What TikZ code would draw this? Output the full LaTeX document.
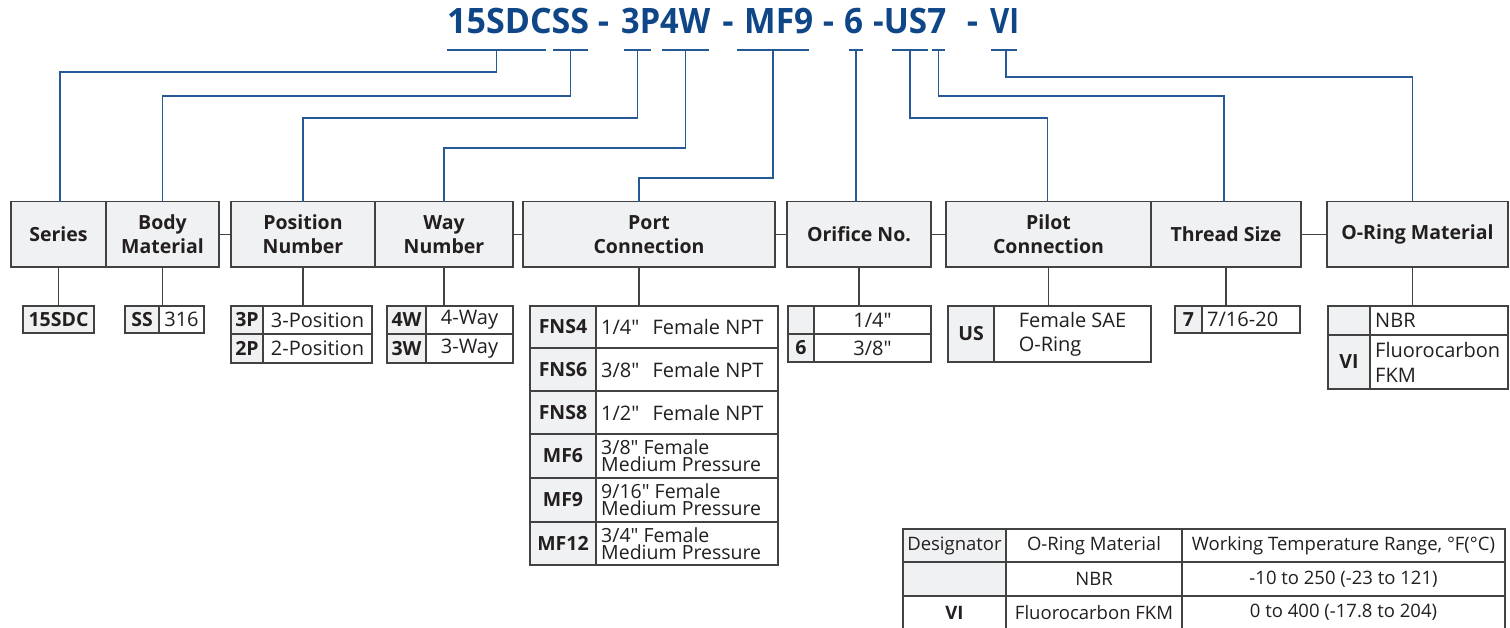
\documentclass[tikz,border=0pt]{standalone}
\usepackage{fontspec}
\setmainfont{Open Sans}[Ligatures=TeXOff]
\usetikzlibrary{calc}
\definecolor{tblue}{RGB}{14,70,136}
\definecolor{lblue}{RGB}{38,90,150}
\definecolor{bc}{RGB}{66,66,66}
\definecolor{gf}{RGB}{240,241,242}
\definecolor{tc}{RGB}{35,31,32}
\newcommand{\myTf}{\fontsize{35}{40}\selectfont\bfseries}
\newcommand{\myHf}{\fontsize{19.5}{24}\selectfont\bfseries}
\newcommand{\myCf}{\fontsize{19.5}{24}\selectfont\bfseries}
\newcommand{\myDf}{\fontsize{20}{24}\selectfont}
\newcommand{\myMf}{\fontsize{19.5}{17}\selectfont}
\newcommand{\myBf}{\fontsize{18.5}{21}\selectfont}
\tikzset{
  cellbase/.style={draw=bc, line width=1.2pt, anchor=north west, inner sep=0pt, outer sep=0pt, text=tc, align=center},
  hdr/.style={fill=gf, font=\myHf, line width=1.3pt},
  code/.style={fill=gf, font=\myCf},
  desc/.style={fill=white, font=\myDf},
  bcode/.style={fill=gf, font=\myBf},
  bdesc/.style={fill=white, font=\myBf},
  ltext/.style={anchor=west, inner sep=0pt, text=tc, align=left},
  ttl/.style={text=tblue, font=\myTf, inner sep=0pt, anchor=base west},
  bar/.style={draw=lblue, line width=2pt},
  conn/.style={draw=lblue, line width=1.4pt},
  link/.style={draw=bc, line width=1.2pt}
}
\newcommand{\mycell}[7][]{%
  \pgfmathsetmacro{\cw}{#5-#3}\pgfmathsetmacro{\ch}{#6-#4}%
  \node[cellbase,#1,minimum width=\cw pt,minimum height=\ch pt] (#2) at (#3,#4) {#7};}
\newcommand{\mylcell}[8][]{%
  \pgfmathsetmacro{\cw}{#5-#3}\pgfmathsetmacro{\ch}{#6-#4}%
  \node[cellbase,#1,minimum width=\cw pt,minimum height=\ch pt] (#2) at (#3,#4) {};
  \node[ltext,font=#8] (#2t) at ([xshift=5pt]#2.west) {#7};}
\newcommand{\mybar}[4]{%
  \coordinate (#1) at (#4,49.5);
  \draw[bar] (#2,49.5) -- (#3,49.5);}
\begin{document}
\begin{tikzpicture}[x=1pt,y=-1pt]
\useasboundingbox[fill=white] (0,0) rectangle (1510,627);
% title
\node[ttl] (t1) at (447,33) {\resizebox{142pt}{\height}{15SDCSS}};
\node[ttl,anchor=base] (h1) at (603.5,33) {-};
\node[ttl] (t2) at (621,33) {\resizebox{89pt}{\height}{3P4W}};
\node[ttl,anchor=base] (h2) at (728,33) {-};
\node[ttl] (t3) at (744,33) {\resizebox{69pt}{\height}{MF9}};
\node[ttl,anchor=base] (h3) at (828.5,33) {-};
\node[ttl] (t4) at (844,33) {\resizebox{19pt}{\height}{6}};
\node[ttl] (t5) at (873,33) {\resizebox{73pt}{\height}{-US7}};
\node[ttl,anchor=base] (h5) at (972.5,33) {-};
\node[ttl] (t6) at (990,33) {\resizebox{29pt}{\height}{VI}};
% bars
\mybar{d1}{447}{546}{496.5}
\mybar{d2}{553}{588}{570.5}
\mybar{d3}{624}{651}{637.5}
\mybar{d4}{662}{709}{685.5}
\mybar{d5}{737}{809}{773}
\mybar{d6}{849}{863}{856}
\mybar{d7}{892}{928}{910}
\mybar{d8}{932}{945}{938.5}
\mybar{d9}{991}{1017}{1006}
% header boxes
\mycell[hdr]{series}{11}{201.5}{106}{267}{Series}
\mycell[hdr]{body}{106}{201.5}{219}{267}{Body\\Material}
\mycell[hdr]{position}{231}{201.5}{375}{267}{Position\\Number}
\mycell[hdr]{way}{375}{201.5}{513}{267}{Way\\Number}
\mycell[hdr]{port}{523}{201.5}{775}{267}{Port\\Connection}
\mycell[hdr]{orifice}{787}{201.5}{931}{267}{Orifice No.}
\mycell[hdr]{pilot}{946}{201.5}{1151}{267}{Pilot\\Connection}
\mycell[hdr]{thread}{1151}{201.5}{1301}{267}{Thread Size}
\mycell[hdr]{oring}{1327}{201.5}{1508}{267}{O-Ring Material}
% blue connectors
\draw[conn] (d1) -- (d1 |- 0,72) -| ([xshift=1.5pt]series.north);
\draw[conn] (d2) -- (d2 |- 0,96) -| (body.north);
\draw[conn] (d3) -- (d3 |- 0,118) -| (position.north);
\draw[conn] (d4) -- (d4 |- 0,148) -| (way.north);
\draw[conn] (d5) -- (d5 |- 0,178) -| ([xshift=-10pt]port.north);
\draw[conn] (d6) -- (d6 |- orifice.north);
\draw[conn] (d7) -- (d7 |- 0,118) -| ([xshift=-1pt]pilot.north);
\draw[conn] (d8) -- (d8 |- 0,96) -| ([xshift=-2pt]thread.north);
\draw[conn] (d9) -- (d9 |- 0,77) -| ([xshift=-5pt]oring.north);
% links between header boxes
\draw[link] (body.east) -- (position.west);
\draw[link] (way.east) -- (port.west);
\draw[link] (port.east) -- (orifice.west);
\draw[link] (orifice.east) -- (pilot.west);
\draw[link] (thread.east) -- (oring.west);
% sub tables
\mycell[code]{s15}{23}{306}{94}{333}{15SDC}
\mycell[code]{ssc}{125}{306}{159}{333}{SS}
\mycell[desc]{ssd}{159}{306}{204}{333}{316}
\mycell[code]{p3c}{231}{306}{263}{334}{3P}
\mycell[desc]{p3d}{263}{306}{372}{334}{3-Position}
\mycell[code]{p2c}{231}{334}{263}{363}{2P}
\mycell[desc]{p2d}{263}{334}{372}{363}{2-Position}
\mycell[code]{w4c}{387}{306}{426}{334}{4W}
\mycell[desc]{w4d}{426}{306}{513}{334}{4-Way}
\mycell[code]{w3c}{387}{334}{426}{363}{3W}
\mycell[desc]{w3d}{426}{334}{513}{363}{3-Way}
% port
\mycell[code]{f4c}{530}{306}{596}{348}{FNS4}
\mylcell[desc]{f4d}{596}{306}{778}{348}{1/4"\hspace{0.4em} Female NPT}{\myDf}
\mycell[code]{f6c}{530}{348}{596}{391}{FNS6}
\mylcell[desc]{f6d}{596}{348}{778}{391}{3/8"\hspace{0.4em} Female NPT}{\myDf}
\mycell[code]{f8c}{530}{391}{596}{434}{FNS8}
\mylcell[desc]{f8d}{596}{391}{778}{434}{1/2"\hspace{0.4em} Female NPT}{\myDf}
\mycell[code]{m6c}{530}{434}{596}{478}{MF6}
\mylcell[desc]{m6d}{596}{434}{778}{478}{3/8" Female\\Medium Pressure}{\myMf}
\mycell[code]{m9c}{530}{478}{596}{522}{MF9}
\mylcell[desc]{m9d}{596}{478}{778}{522}{9/16" Female\\Medium Pressure}{\myMf}
\mycell[code]{m12c}{530}{522}{596}{565}{MF12}
\mylcell[desc]{m12d}{596}{522}{778}{565}{3/4" Female\\Medium Pressure}{\myMf}
% orifice
\mycell[code]{o1c}{788}{306}{814}{334}{}
\mycell[desc]{o1d}{814}{306}{931}{334}{1/4"}
\mycell[code]{o2c}{788}{334}{814}{362}{6}
\mycell[desc]{o2d}{814}{334}{931}{362}{3/8"}
% pilot
\mycell[code]{usc}{948}{306}{994}{362}{US}
\mycell[desc,align=left]{usd}{994}{306}{1151}{362}{Female SAE\\O-Ring}
% thread
\mycell[code]{t7c}{1175}{306}{1202}{333}{7}
\mylcell[desc]{t7d}{1202}{306}{1300}{333}{7/16-20}{\myDf}
% o-ring
\mycell[code]{or1c}{1328}{306}{1370}{335}{}
\mylcell[desc]{or1d}{1370}{306}{1508}{335}{NBR}{\myDf}
\mycell[code]{or2c}{1328}{335}{1370}{389}{VI}
\mylcell[desc]{or2d}{1370}{335}{1508}{389}{Fluorocarbon\\FKM}{\fontsize{20}{25}\selectfont}
% child links
\draw[link] (series.south) -- (s15.north);
\draw[link] (body.south) -- (body.south |- ssc.north);
\draw[link] (position.south) -- (position.south |- p3c.north);
\draw[link] (way.south) -- (way.south |- w4c.north);
\draw[link] ([xshift=-10pt]port.south) -- ([xshift=-10pt]port.south |- f4c.north);
\draw[link] (orifice.south) -- (orifice.south |- o1c.north);
\draw[link] (pilot.south) -- (pilot.south |- usc.north);
\draw[link] (thread.south) -- (thread.south |- t7c.north);
\draw[link] ([xshift=-5pt]oring.south) -- ([xshift=-5pt]oring.south |- or1c.north);
% bottom table
\mycell[bcode]{b11}{903}{529}{1006}{562}{Designator}
\mycell[bdesc]{b12}{1006}{529}{1182}{562}{O-Ring Material}
\mycell[bdesc]{b13}{1182}{529}{1505}{562}{Working Temperature Range, °F(°C)}
\mycell[bcode]{b21}{903}{562}{1006}{596}{}
\mycell[bdesc]{b22}{1006}{562}{1182}{596}{NBR}
\mycell[bdesc]{b23}{1182}{562}{1505}{596}{-10 to 250 (-23 to 121)}
\mycell[bdesc,font=\myBf\bfseries]{b31}{903}{596}{1006}{629}{VI}
\mycell[bdesc]{b32}{1006}{596}{1182}{629}{Fluorocarbon FKM}
\mycell[bdesc]{b33}{1182}{596}{1505}{629}{0 to 400 (-17.8 to 204)}
\end{tikzpicture}
\end{document}
